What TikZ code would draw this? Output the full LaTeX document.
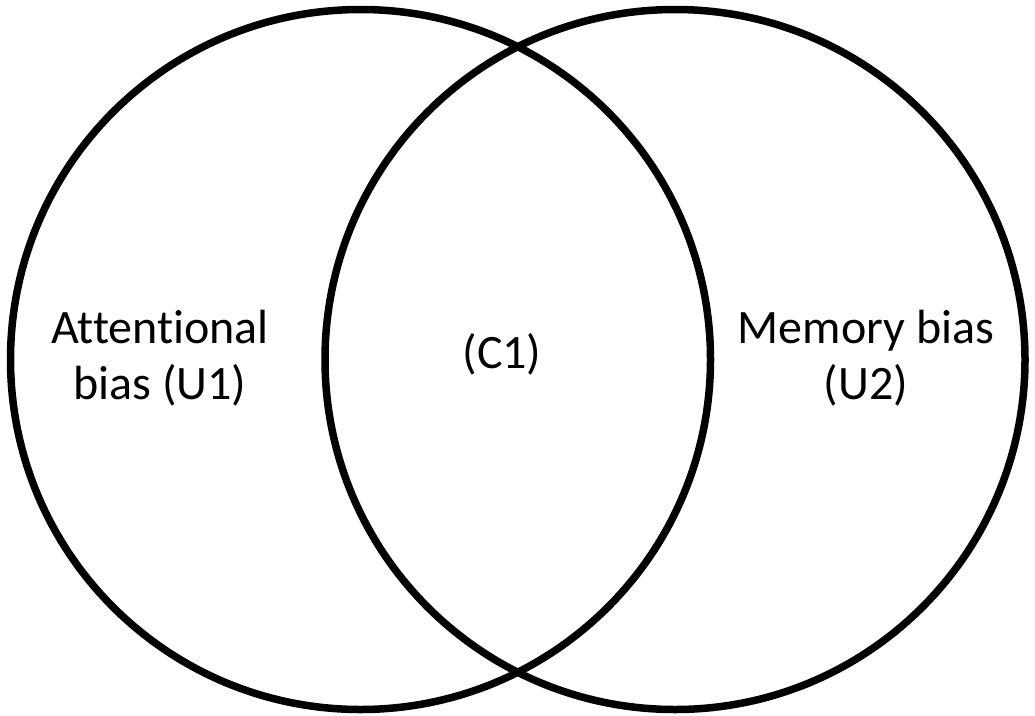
\documentclass[tikz,border=0pt]{standalone}
\usepackage{fontspec}
\setmainfont{Carlito}[Ligatures=NoCommon]
\begin{document}
\begin{tikzpicture}[x=1pt,y=-1pt,
  ring/.style={draw=black, line width=7.5pt, circle, minimum size=700pt, inner sep=0pt},
  lbl/.style={font=\fontsize{48}{56}\selectfont, align=center, anchor=base, inner sep=0pt, text=black}]
\useasboundingbox[fill=white] (0,0) rectangle (1035,715);
\node[ring] (L) at (360.5,359.5) {};
\node[ring] (R) at (675,359.5) {};
\node[lbl] (u1) at (160,399) {Attentional\\bias (U1)};
\node[lbl] (c1) at (502,368) {(C1)};
\node[lbl] (u2) at (866,399) {Memory bias\\(U2)};
\end{tikzpicture}
\end{document}
